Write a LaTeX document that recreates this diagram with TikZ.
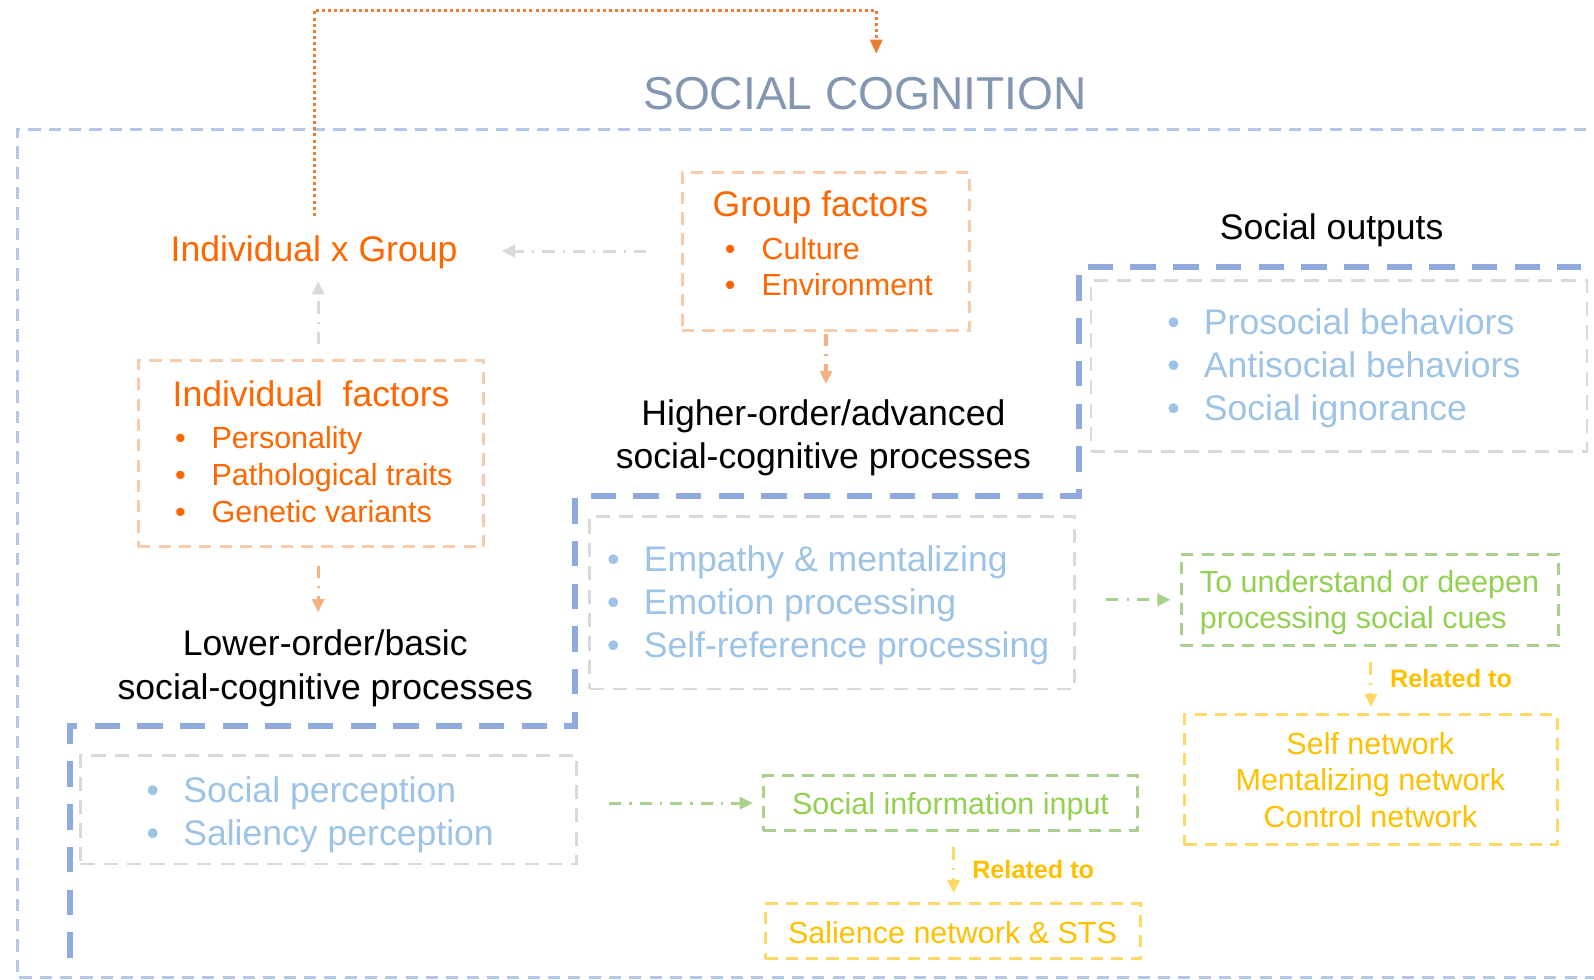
\documentclass[tikz,border=0pt]{standalone}
\usepackage{fontspec}
\setmainfont{Liberation Sans}
\usetikzlibrary{arrows.meta,fit}

\definecolor{titleblue}{HTML}{8497B0}
\definecolor{orng}{HTML}{FF6600}
\definecolor{dotorange}{HTML}{ED7D31}
\definecolor{boxorange}{HTML}{F8CBAD}
\definecolor{arrorange}{HTML}{F4B183}
\definecolor{outerblue}{HTML}{B4C7E7}
\definecolor{stairblue}{HTML}{8FAADC}
\definecolor{boxgray}{HTML}{D9D9D9}
\definecolor{arrgray}{HTML}{D9D9D9}
\definecolor{lblue}{HTML}{9DC3E6}
\definecolor{grn}{HTML}{92D050}
\definecolor{boxgreen}{HTML}{A9D18E}
\definecolor{ylw}{HTML}{FFC000}
\definecolor{boxyellow}{HTML}{FFD966}

\newcommand\bul{\makebox[18pt][l]{\textbullet}}

\begin{document}
\begin{tikzpicture}[x=0.5pt,y=-0.5pt,
  txt/.style={inner sep=0pt, anchor=base west},
  ctxt/.style={inner sep=0pt, anchor=base},
  big/.style={font=\fontsize{17.5}{21}\selectfont},
  mid/.style={font=\fontsize{15}{18}\selectfont},
  small/.style={font=\bfseries\fontsize{12.4}{15}\selectfont},
  obox/.style={draw=boxorange, line width=1.5pt, dash pattern=on 6pt off 4pt, inner sep=0pt},
  gbox/.style={draw=boxgray, line width=1.2pt, dash pattern=on 7pt off 4.5pt, inner sep=0pt},
  grbox/.style={draw=boxgreen, line width=1.5pt, dash pattern=on 6pt off 4pt, inner sep=0pt},
  ybox/.style={draw=boxyellow, line width=1.5pt, dash pattern=on 6pt off 4pt, inner sep=0pt},
  arr/.style={line width=1.5pt, dash pattern=on 6pt off 4pt on 1pt off 4pt,
              -{Triangle[length=6.5pt,width=6pt]}},
  dotarr/.style={draw=dotorange, line width=1.5pt, dash pattern=on 1.5pt off 1.5pt,
              -{Triangle[length=7pt,width=6pt]}, dotorange},
]
\useasboundingbox (0,0) rectangle (1568,964);
\clip (0,0) rectangle (1568,964);

% outer frame of the social cognition domain
\draw[outerblue, line width=1.5pt, dash pattern=on 6pt off 4pt]
  (1600,127) -- (17,127) -- (17,962) -- (1600,962);

% staircase separating the processing levels
\draw[stairblue, line width=3pt, dash pattern=on 12.5pt off 8.5pt]
  (69,942) -- (69,714) -- (566,714) -- (566,488) -- (1061,488) -- (1061,263) -- (1555,263);

% title
\node[ctxt, text=titleblue, font=\fontsize{22.7}{27}\selectfont] (title) at (851,108) {SOCIAL COGNITION};

% individual x group
\node[ctxt, big, text=orng] (ixg) at (309,257) {Individual x Group};

% group factors
\node[obox, fit={(671,170) (954,325)}] (grp) {};
\node[ctxt, big, text=orng] (grpt) at (807,213) {Group factors};
\node[txt, mid, text=orng] (grp1) at (712.75,255) {\bul Culture};
\node[txt, mid, text=orng] (grp2) at (712.75,291) {\bul Environment};

% individual factors
\node[obox, fit={(136,355) (476,538)}] (ind) {};
\node[ctxt, big, text=orng] (indt) at (306,399.5) {Individual\ \ factors};
\node[txt, mid, text=orng] (ind1) at (171.75,441.5) {\bul Personality};
\node[txt, mid, text=orng] (ind2) at (171.75,477.5) {\bul Pathological traits};
\node[txt, mid, text=orng] (ind3) at (171.75,513.5) {\bul Genetic variants};

% level headings
\node[ctxt, big] (hi1) at (810,418.5) {Higher-order/advanced};
\node[ctxt, big] (hi2) at (810,461) {social-cognitive processes};
\node[ctxt, big] (lo1) at (320,645) {Lower-order/basic};
\node[ctxt, big] (lo2) at (320,688) {social-cognitive processes};
\node[ctxt, big] (outt) at (1310,236) {Social outputs};

% social outputs
\node[gbox, fit={(1073,276) (1561,444)}] (outb) {};
\node[txt, big, text=lblue] (out1) at (1147.9,329.5) {\bul Prosocial behaviors};
\node[txt, big, text=lblue] (out2) at (1147.9,371.5) {\bul Antisocial behaviors};
\node[txt, big, text=lblue] (out3) at (1147.9,413.5) {\bul Social ignorance};

% higher-order processes
\node[gbox, fit={(580,508) (1057,678)}] (hib) {};
\node[txt, big, text=lblue] (hp1) at (596.9,562.5) {\bul Empathy \& mentalizing};
\node[txt, big, text=lblue] (hp2) at (596.9,604.5) {\bul Emotion processing};
\node[txt, big, text=lblue] (hp3) at (596.9,646.5) {\bul Self-reference processing};

% lower-order processes
\node[gbox, fit={(79,743) (567,850)}] (lob) {};
\node[txt, big, text=lblue] (lp1) at (143.9,789.5) {\bul Social perception};
\node[txt, big, text=lblue] (lp2) at (143.9,831.5) {\bul Saliency perception};

% functions and networks
\node[grbox, fit={(1162,545) (1533,635)}] (und) {};
\node[txt, mid, text=grn] (und1) at (1180,582.5) {To understand or deepen};
\node[txt, mid, text=grn] (und2) at (1180,618.5) {processing social cues};

\node[ybox, fit={(1165,703) (1532,831)}] (net) {};
\node[ctxt, mid, text=ylw] (net1) at (1348,742) {Self network};
\node[ctxt, mid, text=ylw] (net2) at (1348,778) {Mentalizing network};
\node[ctxt, mid, text=ylw] (net3) at (1348,814) {Control network};

\node[grbox, fit={(751,763) (1119,817)}] (sii) {};
\node[ctxt, mid, text=grn] (siit) at (935,801) {Social information input};

\node[ybox, fit={(753,889) (1122,943)}] (sal) {};
\node[ctxt, mid, text=ylw] (salt) at (937,928) {Salience network \& STS};

\node[txt, small, text=ylw] (rel1) at (1367,676) {Related to};
\node[txt, small, text=ylw] (rel2) at (956,864) {Related to};

% connectors
\coordinate (bend) at (862,10);
\draw[dotarr, shorten <=9.5pt, shorten >=11.5pt] (ixg.north) |- (bend) -- (bend |- title.north);

\draw[arr, arrgray, shorten <=17pt, shorten >=21.5pt] (grp.west |- 0,247) -- (ixg.east |- 0,247);
\draw[arr, arrgray, shorten <=7.5pt, shorten >=6pt] ([xshift=3.5pt]ind.north) -- ([xshift=3.5pt]ind.north |- ixg.south);
\draw[arr, arrorange, shorten <=1pt, shorten >=7.5pt] (grp.south) -- (grp.south |- hi1.north);
\draw[arr, arrorange, shorten <=8.5pt, shorten >=8.5pt] ([xshift=3.5pt]ind.south) -- ([xshift=3.5pt]ind.south |- lo1.north);

\draw[arr, boxgreen, shorten <=15pt, shorten >=4.5pt] (hib.east |- und.west) -- (und.west);
\draw[arr, boxgreen, shorten <=15.5pt, shorten >=4.5pt] (lob.east |- sii.west) -- (sii.west);

\draw[arr, boxyellow, shorten <=7.5pt, shorten >=3pt] ([xshift=0.5pt]und.south) -- ([xshift=0.5pt]und.south |- net.north);
\draw[arr, boxyellow, shorten <=7.5pt, shorten >=4.5pt] ([xshift=1.5pt]sii.south) -- ([xshift=1.5pt]sii.south |- sal.north);
\end{tikzpicture}
\end{document}
